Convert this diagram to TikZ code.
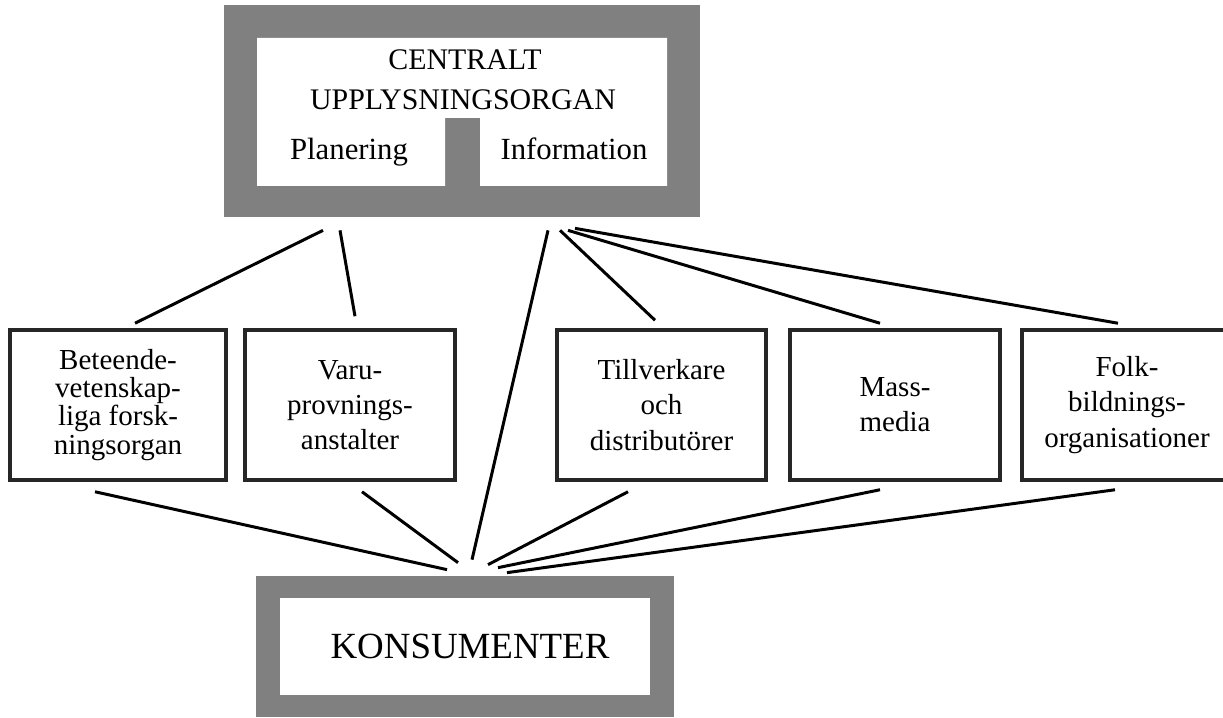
\documentclass[tikz,border=0pt]{standalone}
\usepackage{fontspec}
\setmainfont{Liberation Serif}
\usetikzlibrary{positioning}

\begin{document}
\begin{tikzpicture}[
    screen/.style={fill=black!50, draw=none},
    organ/.style={draw=black!85, line width=2pt, minimum height=3cm, align=center,
        font=\fontsize{16.5}{20}\selectfont},
    link/.style={line width=1.7pt}]
\useasboundingbox (0,0) rectangle (24.46,14.34);
% centralt upplysningsorgan
\node[screen, minimum width=9.52cm, minimum height=4.24cm] (central) at (9.24,12.12) {};
\fill[white] (5.14,13.58) -- (13.34,13.58) -- (13.34,10.62) -- (9.6,10.62) -- (9.6,11.98)
    -- (8.9,11.98) -- (8.9,10.62) -- (5.14,10.62) -- cycle;
\node[anchor=base, font=\fontsize{17}{20}\selectfont] (title) at (9.3,12.94) {CENTRALT};
\node[anchor=base, font=\fontsize{17}{20}\selectfont] (subtitle) at (9.26,12.14) {UPPLYSNINGSORGAN};
\node[anchor=base, font=\fontsize{17.5}{20}\selectfont] (plan) at (6.98,11.14) {Planering};
\node[anchor=base, font=\fontsize{17.5}{20}\selectfont] (info) at (11.48,11.14) {Information};
% organ
\node[organ, minimum width=4.32cm, font=\fontsize{16.5}{16}\selectfont] (beteende) at (2.36,6.24)
    {Beteende-\\vetenskap-\\liga forsk-\\ningsorgan};
\node[organ, minimum width=4.2cm] (varu) at (7.0,6.24) {Varu-\\provnings-\\anstalter};
\node[organ, minimum width=4.18cm] (tillv) at (13.23,6.24) {Tillverkare\\och\\distributörer};
\node[organ, minimum width=4.2cm] (mass) at (17.9,6.24) {Mass-\\media};
\node[organ, minimum width=4.2cm] (folk) at (22.54,6.24) {Folk-\\bildnings-\\organisationer};
% konsumenter
\node[screen, minimum width=8.36cm, minimum height=2.82cm] (konsument) at (9.3,1.41) {};
\node[fill=white, minimum width=7.4cm, minimum height=1.94cm] (kbox) at (9.3,1.41) {};
\node[anchor=base, font=\fontsize{21}{24}\selectfont] (ktext) at (9.4,1.18) {KONSUMENTER};
% upp
\draw[link] ([xshift=-2.78cm, yshift=-.26cm]central.south) -- ([xshift=.34cm, yshift=.1cm]beteende.north);
\draw[link] ([xshift=-2.44cm, yshift=-.26cm]central.south) -- ([xshift=.1cm, yshift=.24cm]varu.north);
\draw[link] ([xshift=1.72cm, yshift=-.26cm]central.south) -- ([xshift=.14cm, yshift=.32cm]konsument.north);
\draw[link] ([xshift=1.96cm, yshift=-.26cm]central.south) -- ([xshift=-.13cm, yshift=.16cm]tillv.north);
\draw[link] ([xshift=2.12cm, yshift=-.26cm]central.south) -- ([xshift=-.3cm, yshift=.1cm]mass.north);
\draw[link] ([xshift=2.26cm, yshift=-.22cm]central.south) -- ([xshift=-.18cm, yshift=.1cm]folk.north);
% ned
\draw[link] ([xshift=-.46cm, yshift=-.2cm]beteende.south) -- ([xshift=-.36cm, yshift=.12cm]konsument.north);
\draw[link] ([xshift=.24cm, yshift=-.2cm]varu.south) -- ([xshift=-.14cm, yshift=.26cm]konsument.north);
\draw[link] ([xshift=-.67cm, yshift=-.2cm]tillv.south) -- ([xshift=.46cm, yshift=.22cm]konsument.north);
\draw[link] ([xshift=-.3cm, yshift=-.16cm]mass.south) -- ([xshift=.66cm, yshift=.16cm]konsument.north);
\draw[link] ([xshift=-.24cm, yshift=-.16cm]folk.south) -- ([xshift=.84cm, yshift=.06cm]konsument.north);
\end{tikzpicture}
\end{document}
